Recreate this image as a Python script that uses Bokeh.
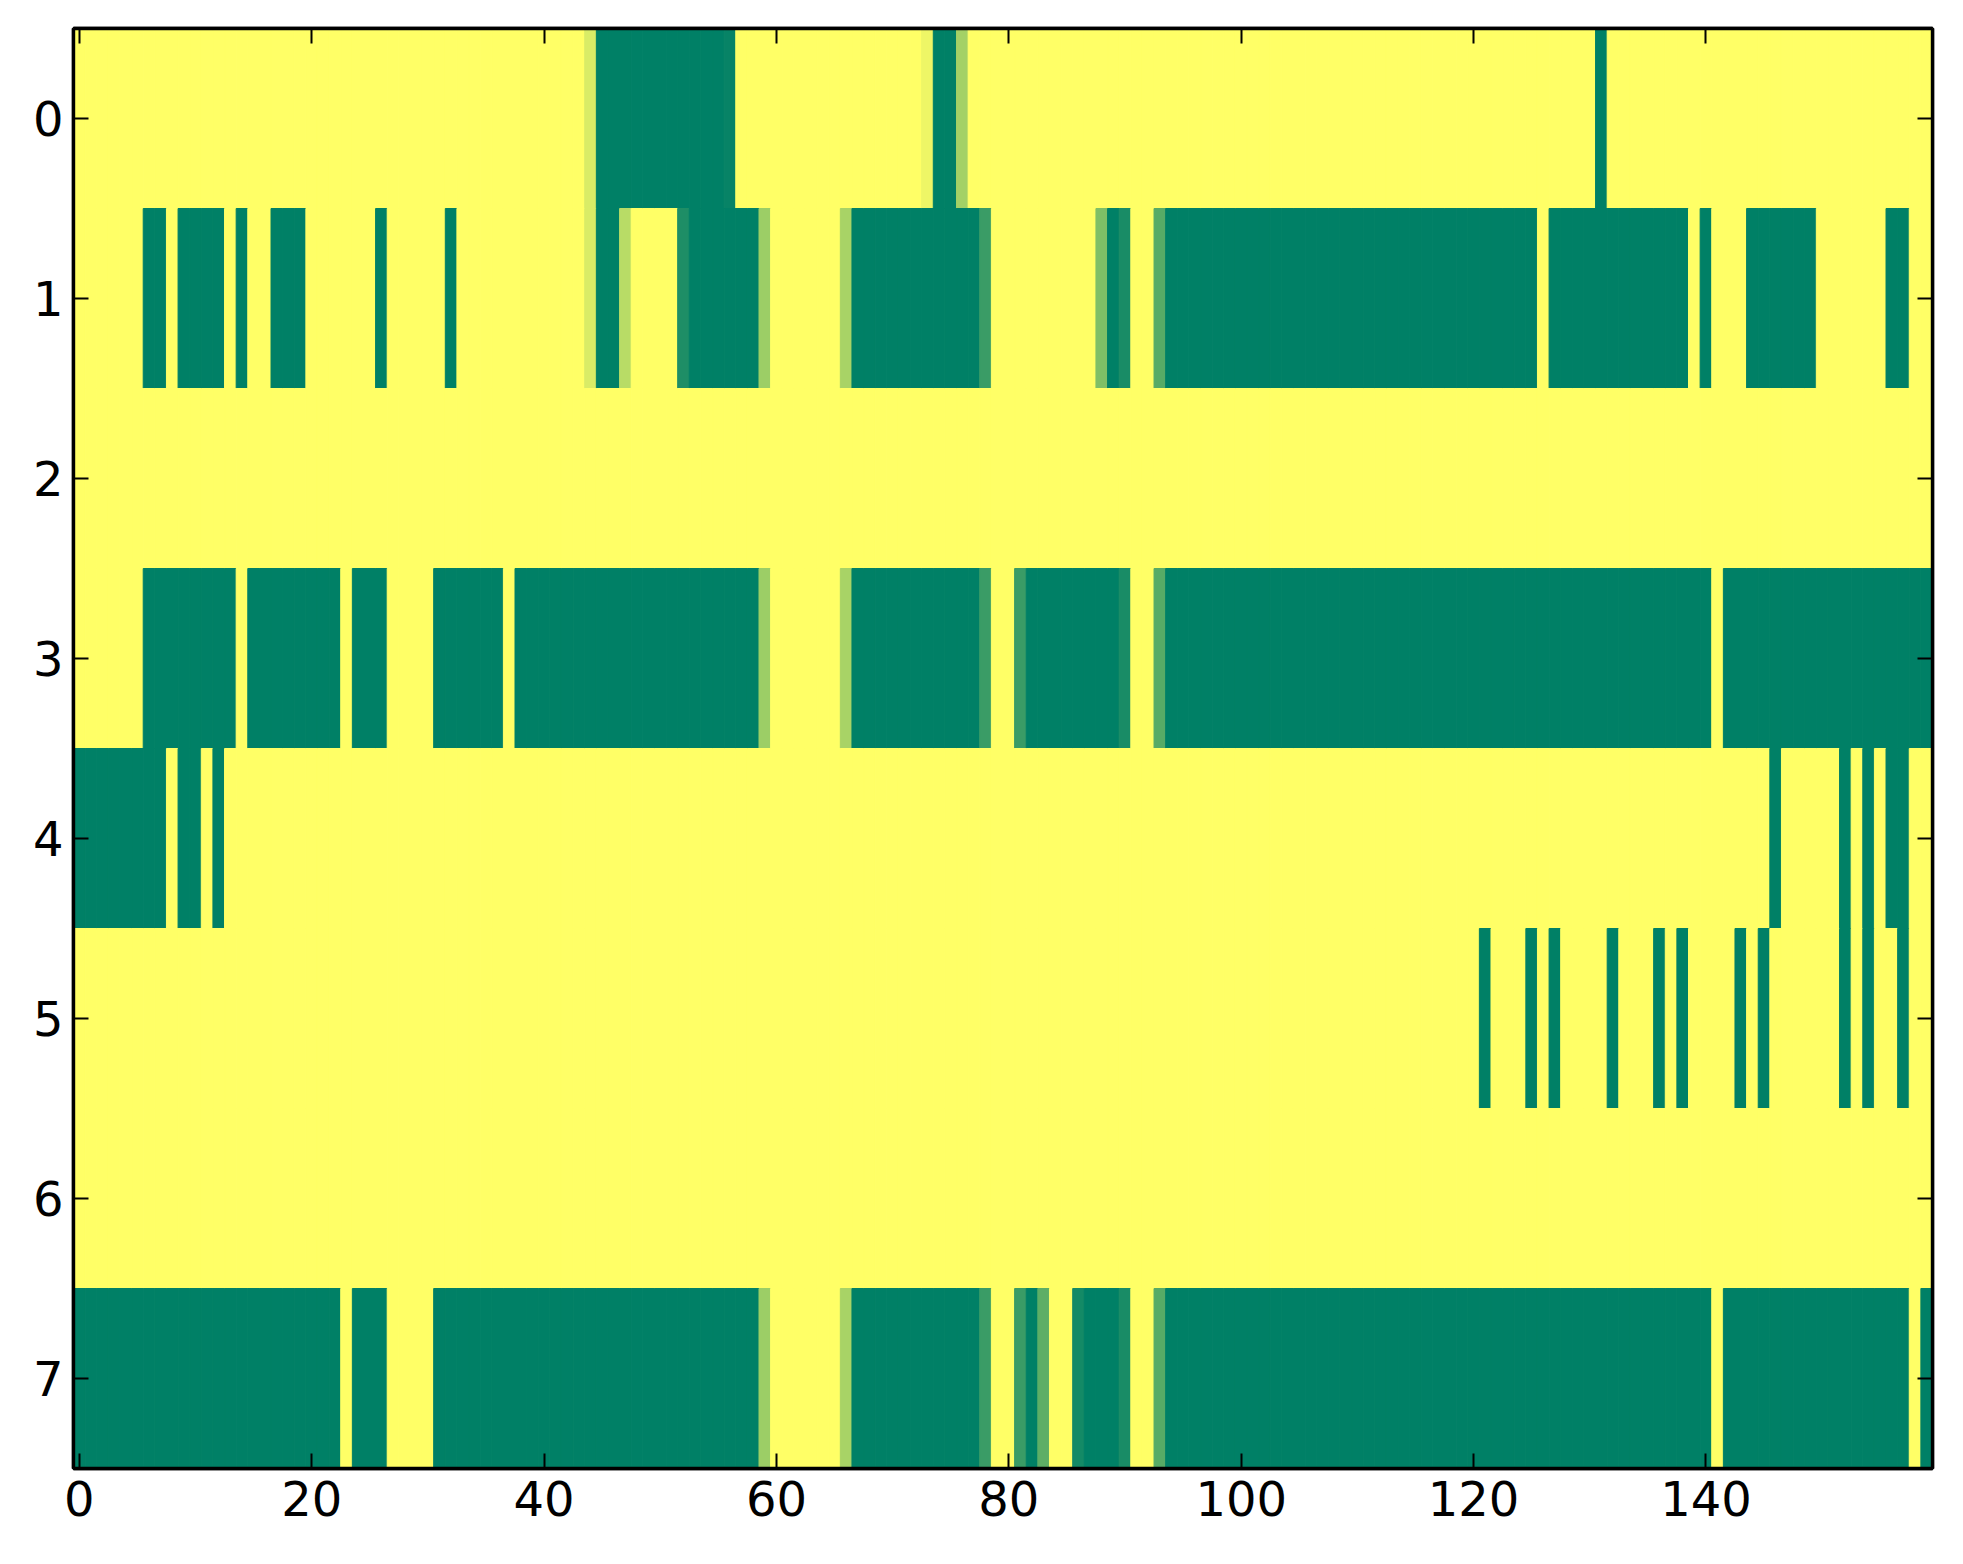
from bokeh.plotting import figure
from bokeh.models import (Range1d, LinearAxis, FixedTicker, ColumnDataSource,
                          LinearColorMapper, CustomJSTickFormatter)
from bokeh.embed import file_html
from bokeh.resources import INLINE

# Each row is run-length encoded as (value, count); 1 = green, 0 = yellow,
# intermediate values appear as blended shades.
row_0 = [(0, 44), (0.15, 1), (1, 11), (0.97, 1), (0, 16), (0.07, 1), (1, 2), (0.36, 1),
         (0, 54), (1, 1), (0, 28)]
row_1 = [(0, 6), (1, 2), (0, 1), (1, 4), (0, 1), (1, 1), (0, 2), (1, 3), (0, 6), (1, 1),
         (0, 5), (1, 1), (0, 11), (0.15, 1), (1, 2), (0.28, 1), (0, 4), (0.88, 1), (1, 6),
         (0.39, 1), (0, 6), (0.34, 1), (1, 11), (0.77, 1), (0, 9), (0.5, 1), (1, 1), (0.9, 1),
         (0, 2), (0.66, 1), (1, 32), (0, 1), (1, 12), (0, 1), (1, 1), (0, 3), (1, 6), (0, 6),
         (1, 2), (0, 2)]
row_2 = [(0, 160)]
row_3 = [(0, 6), (1, 8), (0, 1), (1, 8), (0, 1), (1, 3), (0, 4), (1, 6), (0, 1), (1, 21),
         (0.39, 1), (0, 6), (0.34, 1), (1, 11), (0.77, 1), (0, 2), (0.77, 1), (1, 8), (0.9, 1),
         (0, 2), (0.66, 1), (1, 47), (0, 1), (1, 18)]
row_4 = [(1, 8), (0, 1), (1, 2), (0, 1), (1, 1), (0, 133), (1, 1), (0, 5), (1, 1), (0, 1),
         (1, 1), (0, 1), (1, 2), (0, 2)]
row_5 = [(0, 121), (1, 1), (0, 3), (1, 1), (0, 1), (1, 1), (0, 4), (1, 1), (0, 3), (1, 1),
         (0, 1), (1, 1), (0, 4), (1, 1), (0, 1), (1, 1), (0, 6), (1, 1), (0, 1), (1, 1),
         (0, 2), (1, 1), (0, 2)]
row_6 = [(0, 160)]
row_7 = [(1, 23), (0, 1), (1, 3), (0, 4), (1, 28), (0.39, 1), (0, 6), (0.34, 1), (1, 11),
         (0.77, 1), (0, 2), (0.77, 1), (1, 1), (0.63, 1), (0, 2), (0.92, 1), (1, 3), (0.9, 1),
         (0, 2), (0.66, 1), (1, 47), (0, 1), (1, 16), (0, 1), (1, 1)]

rows = [row_0, row_1, row_2, row_3, row_4, row_5, row_6, row_7]
x_ticks = [0, 20, 40, 60, 80, 100, 120, 140]
y_ticks = [0, 1, 2, 3, 4, 5, 6, 7]

xs, ys, vs = [], [], []
for r, runs in enumerate(rows):
    c = 0
    for v, n in runs:
        for _ in range(n):
            xs.append(c)
            ys.append(r)
            vs.append(v)
            c += 1
ncols = max(xs) + 1
nrows = len(rows)

# reversed "summer" colormap: 0 -> yellow, 1 -> green
palette = []
for k in range(256):
    t = k / 255
    rr = int(round((1 - t) * 255))
    gg = int(round((1 - 0.5 * t) * 255))
    bb = int(round(0.4 * 255))
    palette.append("#%02x%02x%02x" % (rr, gg, bb))
mapper = LinearColorMapper(palette=palette, low=0, high=1)

src = ColumnDataSource(dict(x=xs, y=ys, v=vs))

p = figure(width=1940, height=1540, output_backend="svg", toolbar_location=None,
           x_range=Range1d(-0.5, ncols - 0.5), y_range=Range1d(nrows - 0.5, -0.5),
           min_border_left=73, min_border_right=8, min_border_top=28, min_border_bottom=72,
           x_axis_location=None, y_axis_location=None)
p.background_fill_color = "white"
p.border_fill_color = "white"
p.xgrid.visible = False
p.ygrid.visible = False

p.rect(x="x", y="y", width=1, height=1, source=src,
       fill_color={"field": "v", "transform": mapper},
       line_color={"field": "v", "transform": mapper}, line_width=1)

p.outline_line_color = "black"
p.outline_line_width = 3.4


def make_axis(ticks, show_labels, standoff):
    ax = LinearAxis(ticker=FixedTicker(ticks=ticks))
    ax.axis_line_color = "black"
    ax.axis_line_width = 3.4
    ax.major_tick_in = 15
    ax.major_tick_out = 0
    ax.major_tick_line_width = 2
    ax.major_tick_line_color = "black"
    ax.minor_tick_line_color = None
    if show_labels:
        ax.major_label_text_font = "DejaVu Sans"
        ax.major_label_text_font_size = "48px"
        ax.major_label_text_color = "black"
        ax.major_label_standoff = standoff
    else:
        ax.formatter = CustomJSTickFormatter(code="return ''")
        ax.major_label_text_font_size = "1px"
        ax.major_label_standoff = 0
    return ax


p.add_layout(make_axis(x_ticks, True, 12), "below")
p.add_layout(make_axis(y_ticks, True, 10), "left")
p.add_layout(make_axis(x_ticks, False, 0), "above")
p.add_layout(make_axis(y_ticks, False, 0), "right")

open("out.html", "w").write(file_html(p, INLINE))
